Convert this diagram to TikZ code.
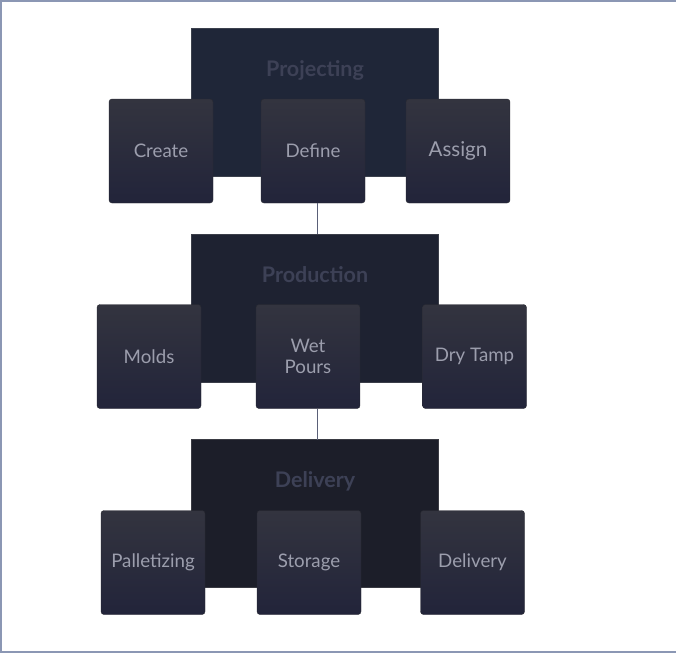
\documentclass[tikz,border=0pt]{standalone}
\usepackage{fontspec}
\setmainfont{Lato}
\definecolor{frameblue}{HTML}{8B97B4}
\definecolor{projbg}{HTML}{1F2638}
\definecolor{prodbg}{HTML}{1E2231}
\definecolor{delibg}{HTML}{1C1E29}
\definecolor{cardtop}{HTML}{33343F}
\definecolor{cardbot}{HTML}{22243A}
\definecolor{cardtext}{HTML}{9C9EAD}
\definecolor{headtext}{HTML}{3D4156}
\definecolor{linkgray}{HTML}{5A6078}
\tikzset{
	stage/.style={draw=#1!70!gray, line width=.6pt, fill=#1, minimum width=247pt, minimum height=148pt, inner sep=0pt},
	stagename/.style={text=headtext, font=\bfseries\fontsize{21.5}{24}\selectfont},
	card/.style={rounded corners=3pt, top color=cardtop, bottom color=cardbot, draw=cardtop!80!black, line width=.4pt,
		minimum width=104pt, minimum height=104pt, inner sep=1pt, text=cardtext, align=center,
		font=\fontsize{18.7}{21}\selectfont},
	link/.style={draw=linkgray, line width=.9pt}
}
\begin{document}
\begin{tikzpicture}[x=1pt, y=-1pt]
		\useasboundingbox (0, 0) rectangle (676, 653);
		\draw[frameblue, line width=2pt] (676, 1) -- (1, 1) -- (1, 652) -- (676, 652);

		% projecting
		\node[stage=projbg] (proj) at(314.5, 102){};
			\node[stagename] (projname) at(315, 70){Projecting};
			\node[card] (create) at(161, 151){Create};
			\node[card] (define) at(313, 151){Define};
			\node[card, font=\fontsize{20.5}{22}\selectfont] (assign) at(458, 151){Assign};

		% production
		\node[stage=prodbg] (prod) at(314.5, 308){};
			\node[stagename] (prodname) at(315, 275){Production};
			\node[card] (molds) at(149, 356.5){Molds};
			\node[card] (wetpours) at(308, 356.5){Wet\\Pours};
			\node[card] (drytamp) at(474.5, 356.5){Dry Tamp};

		% delivery
		\node[stage=delibg] (deli) at(314.5, 513.5){};
			\node[stagename] (deliname) at(315, 481){Delivery};
			\node[card] (pallet) at(153, 562.5){Palletizing};
			\node[card] (storage) at(309, 562.5){Storage};
			\node[card] (delivery) at(472.5, 562.5){Delivery};

		%%%%%%%%%%%%%%%%%%%%%%%%%%%%
		\coordinate (linkA) at(317, 234);
		\coordinate (linkB) at(317, 440);
		\draw[link] (linkA |- define.south) to (linkA);
		\draw[link] (linkB |- wetpours.south) to (linkB);
\end{tikzpicture}
\end{document}
